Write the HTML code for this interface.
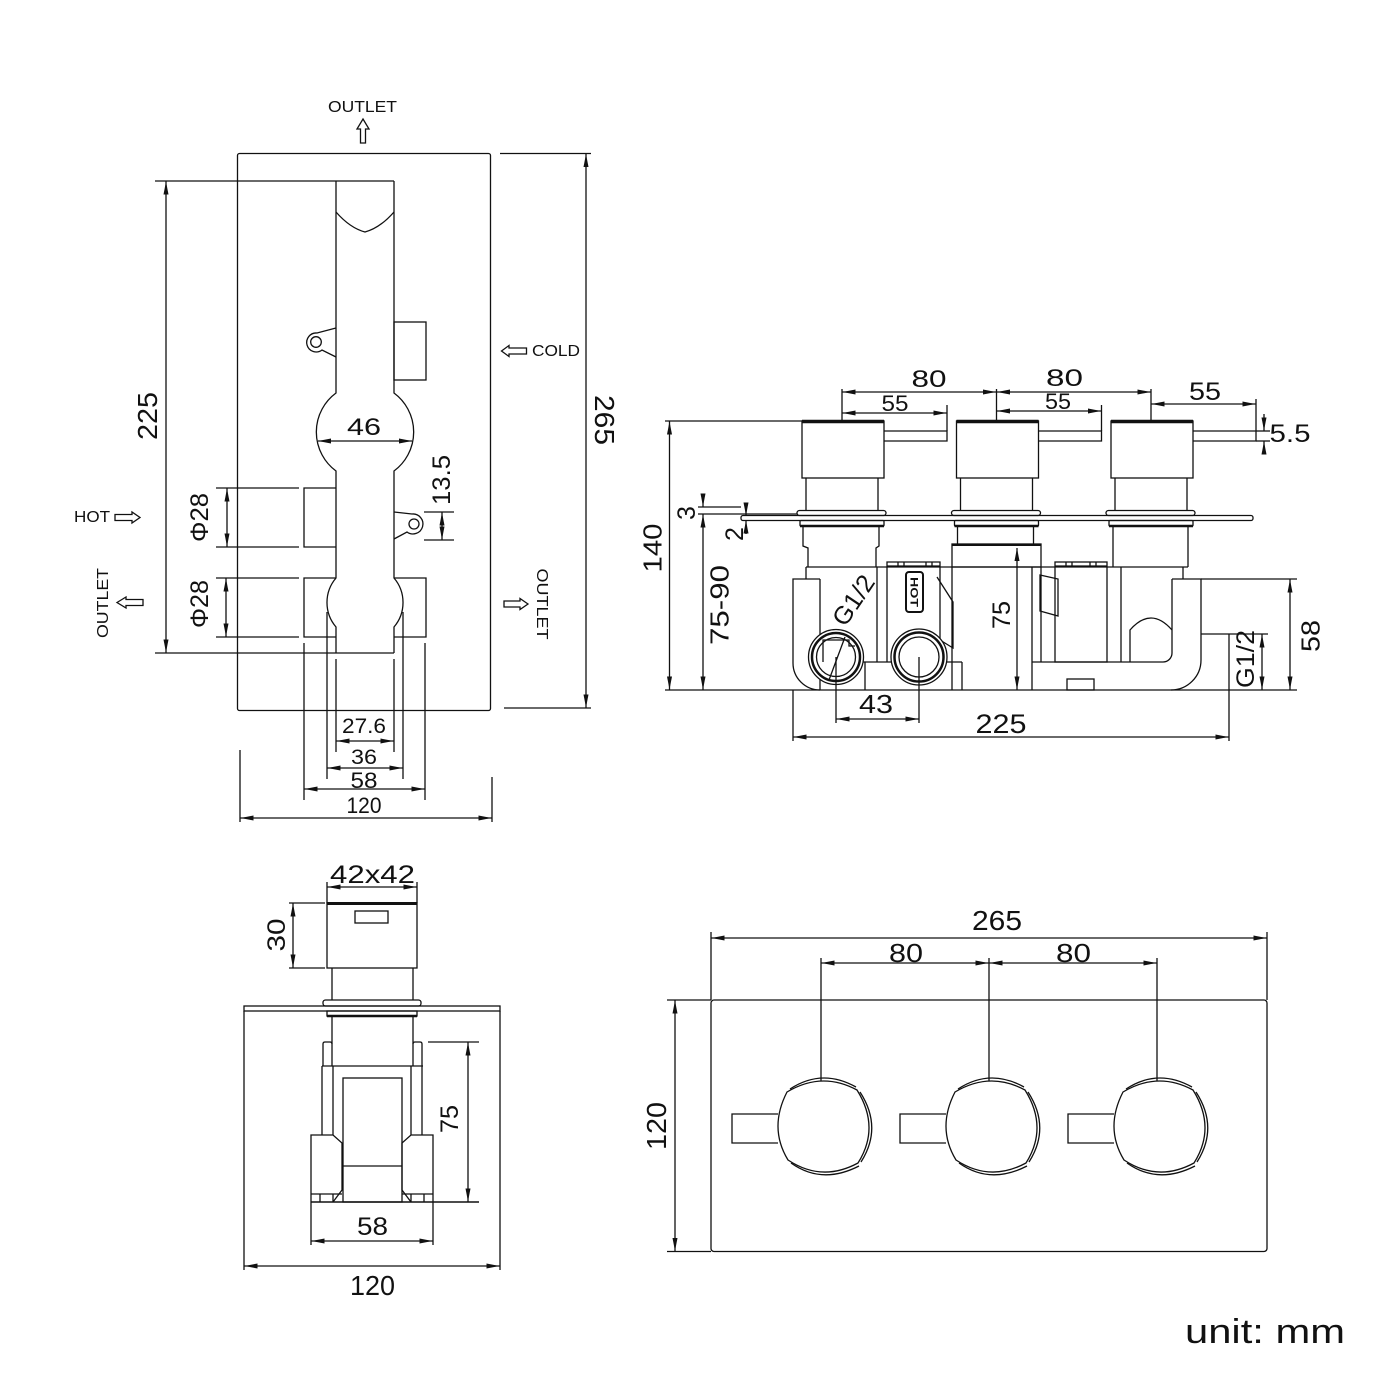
<!DOCTYPE html>
<html><head><meta charset="utf-8">
<style>
html,body{margin:0;padding:0;background:#fff;}
svg{display:block;}
text{font-family:"Liberation Sans",sans-serif;fill:#111;}
.d{marker-start:url(#a);marker-end:url(#a);}
.e{marker-end:url(#a);}
</style></head><body>
<svg width="1400" height="1400" viewBox="0 0 1400 1400" xmlns="http://www.w3.org/2000/svg">
<defs>
<marker id="a" markerUnits="userSpaceOnUse" markerWidth="13" markerHeight="5" refX="13" refY="2.5" orient="auto-start-reverse" viewBox="0 0 13 5"><path d="M0,0 L13,2.5 L0,5 Z" fill="#111" stroke="none"/></marker>
</defs>
<rect width="1400" height="1400" fill="#fff"/>
<g fill="none" stroke="#111" stroke-width="1.3">
<!-- ============ TOP-LEFT VIEW ============ -->
<path d="M363,119 L369,129 L365.5,129 L365.5,143 L360.5,143 L360.5,129 L357,129 Z"/>
<rect x="237.5" y="153.5" width="253" height="557" rx="2"/>
<line x1="500" y1="153.5" x2="591" y2="153.5"/>
<line x1="504" y1="708" x2="591" y2="708"/>
<line class="d" x1="586" y1="154" x2="586" y2="707.5"/>
<line x1="155" y1="181" x2="394" y2="181"/>
<line x1="155" y1="653" x2="394" y2="653"/>
<line class="d" x1="166" y1="181.5" x2="166" y2="652.5"/>
<path d="M336,181 L336,393 A48.5,48.5 0 0 0 336,471 L336,578 A37.8,37.8 0 0 0 336,627 L336,653"/>
<path d="M394,181 L394,393 A48.5,48.5 0 0 1 394,471 L394,578 A37.8,37.8 0 0 1 394,627 L394,653"/>
<path d="M336,212 Q350,228 365,232 Q380,228 394,212"/>
<path d="M336,328 L317,333 A9.5,9.5 0 1 0 322,350 L336,357"/>
<circle cx="316" cy="342" r="5.3"/>
<rect x="394" y="322" width="32" height="58"/>
<path d="M394,512 L412,514 A10,10 0 1 1 407,532 L394,539"/>
<circle cx="414" cy="524" r="5"/>
<line class="d" x1="318" y1="441" x2="412" y2="441"/>
<line x1="424" y1="512" x2="454" y2="512"/>
<line x1="424" y1="540" x2="454" y2="540"/>
<line class="d" x1="442" y1="512.5" x2="442" y2="539.5"/>
<polyline points="336,488 304,488 304,547 336,547"/>
<line x1="216" y1="488" x2="299" y2="488"/>
<line x1="216" y1="547" x2="299" y2="547"/>
<line class="d" x1="227" y1="488.5" x2="227" y2="546.5"/>
<polyline points="336,578 304,578 304,637 336,637"/>
<polyline points="394,578 426,578 426,637 394,637"/>
<line x1="216" y1="578" x2="299" y2="578"/>
<line x1="216" y1="637" x2="299" y2="637"/>
<line class="d" x1="226" y1="578.5" x2="226" y2="636.5"/>
<line x1="336" y1="659" x2="336" y2="752"/>
<line x1="394" y1="659" x2="394" y2="752"/>
<line class="d" x1="336.5" y1="741" x2="393.5" y2="741"/>
<line x1="327" y1="612" x2="327" y2="779"/>
<line x1="403" y1="612" x2="403" y2="779"/>
<line class="d" x1="327.5" y1="768" x2="402.5" y2="768"/>
<line x1="304" y1="643" x2="304" y2="800"/>
<line x1="425" y1="643" x2="425" y2="800"/>
<line class="d" x1="304.5" y1="789" x2="424.5" y2="789"/>
<line x1="240" y1="750" x2="240" y2="822"/>
<line x1="492" y1="777" x2="492" y2="822"/>
<line class="d" x1="240.5" y1="818" x2="491.5" y2="818"/>
<path d="M115,514.5 L132,514.5 L132,512 L140,517.5 L132,523 L132,520.5 L115,520.5 Z"/>
<path d="M501.5,351 L509,345.5 L509,348 L526.5,348 L526.5,354 L509,354 L509,356.5 Z"/>
<path d="M117,602.5 L126,597 L126,599.5 L143,599.5 L143,605.5 L126,605.5 L126,608 Z"/>
<path d="M528,604 L520,598.5 L520,601 L504,601 L504,607 L520,607 L520,609.5 Z"/>

<!-- ============ SIDE VIEW ============ -->
<line x1="665" y1="421" x2="802" y2="421"/>
<line class="d" x1="669.5" y1="421.5" x2="669.5" y2="689.5"/>
<line x1="665" y1="690" x2="1297" y2="690"/>
<line x1="698" y1="507" x2="741" y2="507"/>
<line x1="698" y1="514" x2="797" y2="514"/>
<line class="e" x1="703" y1="496" x2="703" y2="506.5"/>
<line class="d" x1="703" y1="514.5" x2="703" y2="689.5"/>
<line class="e" x1="746" y1="503" x2="746" y2="515.5"/>
<line class="e" x1="746" y1="534" x2="746" y2="520.5"/>
<rect x="741" y="515.5" width="512" height="5" rx="2"/>
<g id="k">
<rect x="802" y="421" width="82" height="57"/>
<line x1="802" y1="421.5" x2="884" y2="421.5" stroke-width="3.5"/>
<polyline points="884,431 947,431 947,441 884,441"/>
<line x1="806" y1="478" x2="806" y2="510.5"/>
<line x1="878" y1="478" x2="878" y2="510.5"/>
<rect x="797" y="510.5" width="89" height="5" rx="2.5"/>
<rect x="800" y="520.5" width="84" height="5.5" rx="1"/>
<line x1="800" y1="526" x2="884" y2="526" stroke-width="2.5"/>
</g>
<use href="#k" x="154.5"/>
<use href="#k" x="309"/>
<polyline points="803,526 803,546 808,548 808,567"/>
<polyline points="879,526 879,546 876,548 876,567"/>
<line x1="957.5" y1="526" x2="957.5" y2="544"/>
<line x1="1033.5" y1="526" x2="1033.5" y2="544"/>
<rect x="952" y="544" width="89" height="23"/>
<line x1="952" y1="545" x2="1041" y2="545" stroke-width="2"/>
<line x1="1113" y1="526" x2="1113" y2="567"/>
<line x1="1188" y1="526" x2="1188" y2="567"/>
<line x1="806" y1="567" x2="1188" y2="567"/>
<line x1="806" y1="567" x2="806" y2="579"/>
<path d="M820,579 L793,579 L793,663 A27,27 0 0 0 820,690"/>
<line x1="820" y1="579" x2="820" y2="690"/>
<line x1="877" y1="567" x2="877" y2="662"/>
<line x1="820" y1="662" x2="962" y2="662"/>
<line x1="865" y1="662" x2="865" y2="690"/>
<line x1="962" y1="662" x2="962" y2="690"/>
<polyline points="887,662 887,562 940,562 940,640"/>
<line x1="887" y1="566" x2="940" y2="566"/>
<line x1="898" y1="562" x2="898" y2="566"/><line x1="904" y1="562" x2="904" y2="566"/>
<line x1="926" y1="562" x2="926" y2="566"/><line x1="932" y1="562" x2="932" y2="566"/>
<polyline points="937,577 953,602 953,648 940,640"/>
<line x1="952" y1="567" x2="952" y2="690"/>
<line x1="1032" y1="567" x2="1032" y2="690"/>
<line x1="1041" y1="567" x2="1041" y2="662"/>
<line x1="1032" y1="662" x2="1163" y2="662"/>
<polygon points="1040,575 1058,579 1058,616 1040,611"/>
<rect x="1055" y="562" width="52" height="100"/>
<line x1="1055" y1="566" x2="1107" y2="566"/>
<line x1="1066" y1="562" x2="1066" y2="566"/><line x1="1072" y1="562" x2="1072" y2="566"/>
<line x1="1090" y1="562" x2="1090" y2="566"/><line x1="1096" y1="562" x2="1096" y2="566"/>
<line x1="1121" y1="567" x2="1121" y2="662"/>
<path d="M1130,662 L1130,630 Q1151,606 1172,630"/>
<line x1="1183" y1="567" x2="1183" y2="579"/>
<path d="M1172,579 L1201,579 L1201,660 A30,30 0 0 1 1171,690"/>
<path d="M1172,579 L1172,653 A9,9 0 0 1 1163,662"/>
<line x1="1201" y1="579" x2="1297" y2="579"/>
<line x1="1201" y1="634" x2="1268" y2="634"/>
<line x1="1229" y1="634" x2="1229" y2="741"/>
<line class="d" x1="1290" y1="579.5" x2="1290" y2="689.5"/>
<line class="d" x1="1262" y1="634.5" x2="1262" y2="689.5"/>
<rect x="1067" y="679" width="27" height="11"/>
<g fill="#fff">
<circle cx="836" cy="657" r="27.5"/>
<circle cx="836" cy="657" r="24" stroke-width="2.5"/>
<circle cx="836" cy="657" r="19.5"/>
<circle cx="919" cy="657" r="28"/>
<circle cx="919" cy="657" r="24.5" stroke-width="2.5"/>
<circle cx="919" cy="657" r="20"/>
</g>
<polyline points="823,662 823,640 849,640 849,646 855,646"/>
<line x1="829" y1="680" x2="845" y2="637"/>
<line x1="836" y1="657" x2="836" y2="723"/>
<line x1="919" y1="657" x2="919" y2="723"/>
<line class="d" x1="836.5" y1="719" x2="918.5" y2="719"/>
<line x1="793" y1="690" x2="793" y2="741"/>
<line class="d" x1="793.5" y1="737" x2="1228.5" y2="737"/>
<rect x="906" y="572" width="17" height="40" rx="3" stroke-width="2"/>
<line class="d" x1="1017" y1="548" x2="1017" y2="689.5"/>
<line x1="842" y1="389" x2="842" y2="421"/>
<line x1="996.5" y1="389" x2="996.5" y2="421"/>
<line x1="1151" y1="389" x2="1151" y2="421"/>
<line class="d" x1="842.5" y1="392" x2="996" y2="392"/>
<line class="d" x1="997" y1="392" x2="1150.5" y2="392"/>
<line x1="947" y1="405" x2="947" y2="431"/>
<line x1="1101.5" y1="405" x2="1101.5" y2="431"/>
<line x1="1256" y1="399" x2="1256" y2="431"/>
<line class="d" x1="842.5" y1="413" x2="946.5" y2="413"/>
<line class="d" x1="997" y1="411" x2="1101" y2="411"/>
<line class="d" x1="1151.5" y1="404" x2="1255.5" y2="404"/>
<line x1="1256" y1="431" x2="1270" y2="431"/>
<line x1="1256" y1="441" x2="1270" y2="441"/>
<line class="e" x1="1264" y1="414" x2="1264" y2="430.5"/>
<line class="e" x1="1264" y1="452" x2="1264" y2="441.5"/>

<!-- ============ BOTTOM-LEFT VIEW ============ -->
<line x1="327" y1="882" x2="327" y2="903"/>
<line x1="417" y1="882" x2="417" y2="903"/>
<line class="d" x1="327.5" y1="887" x2="416.5" y2="887"/>
<rect x="327" y="903" width="90" height="65"/>
<line x1="327" y1="903.5" x2="417" y2="903.5" stroke-width="3"/>
<rect x="355" y="911" width="33" height="12"/>
<line x1="289" y1="903" x2="325" y2="903"/>
<line x1="289" y1="968" x2="325" y2="968"/>
<line class="d" x1="293" y1="903.5" x2="293" y2="967.5"/>
<line x1="332" y1="968" x2="332" y2="1000"/>
<line x1="413" y1="968" x2="413" y2="1000"/>
<rect x="323" y="1000" width="98" height="6" rx="2.5"/>
<rect x="244" y="1006" width="256" height="5"/>
<rect x="327" y="1011" width="90" height="5"/>
<line x1="327" y1="1016" x2="417" y2="1016" stroke-width="2.5"/>
<line x1="332" y1="1016" x2="332" y2="1066"/>
<line x1="413" y1="1016" x2="413" y2="1066"/>
<path d="M323,1066 L323,1044 Q323,1042 325,1042 L330,1042 Q332,1042 332,1044"/>
<path d="M413,1044 Q413,1042 415,1042 L420,1042 Q422,1042 422,1044 L422,1066"/>
<line x1="322" y1="1066" x2="423" y2="1066"/>
<line x1="322" y1="1066" x2="322" y2="1135"/>
<line x1="333" y1="1066" x2="333" y2="1135"/>
<line x1="411" y1="1066" x2="411" y2="1135"/>
<line x1="422" y1="1066" x2="422" y2="1135"/>
<rect x="343" y="1078" width="59" height="124"/>
<line x1="343" y1="1166" x2="402" y2="1166"/>
<path d="M311,1202 L311,1135 L333,1135 L342,1143 L342,1190 L333,1202"/>
<path d="M433,1202 L433,1135 L411,1135 L402,1143 L402,1190 L411,1202"/>
<line x1="311" y1="1194" x2="342" y2="1194"/>
<line x1="320" y1="1194" x2="320" y2="1202"/>
<line x1="333" y1="1194" x2="333" y2="1202"/>
<line x1="402" y1="1194" x2="433" y2="1194"/>
<line x1="411" y1="1194" x2="411" y2="1202"/>
<line x1="424" y1="1194" x2="424" y2="1202"/>
<line x1="311" y1="1202" x2="479" y2="1202" stroke-width="1.6"/>
<line x1="428" y1="1042" x2="479" y2="1042"/>
<line class="d" x1="468" y1="1042.5" x2="468" y2="1201.5"/>
<line x1="311" y1="1202" x2="311" y2="1245"/>
<line x1="433" y1="1202" x2="433" y2="1245"/>
<line class="d" x1="311.5" y1="1241" x2="432.5" y2="1241"/>
<line x1="244" y1="1011" x2="244" y2="1270"/>
<line x1="500" y1="1011" x2="500" y2="1270"/>
<line class="d" x1="244.5" y1="1266" x2="499.5" y2="1266"/>

<!-- ============ BOTTOM-RIGHT VIEW ============ -->
<rect x="711" y="1000" width="556" height="251.5" rx="3"/>
<line x1="667" y1="1000" x2="711" y2="1000"/>
<line x1="667" y1="1251.5" x2="711" y2="1251.5"/>
<line class="d" x1="675" y1="1000.5" x2="675" y2="1251"/>
<line x1="711" y1="932" x2="711" y2="1000"/>
<line x1="1267" y1="932" x2="1267" y2="1000"/>
<line class="d" x1="711.5" y1="938" x2="1266.5" y2="938"/>
<line x1="821" y1="958" x2="821" y2="1081"/>
<line x1="989" y1="958" x2="989" y2="1081"/>
<line x1="1157" y1="958" x2="1157" y2="1081"/>
<line class="d" x1="821.5" y1="963" x2="988.5" y2="963"/>
<line class="d" x1="989.5" y1="963" x2="1156.5" y2="963"/>
<g id="fk">
<polyline points="778,1114 732,1114 732,1143 778,1143"/>
<path d="M787,1092 Q822,1071 857,1090 Q880.5,1127.5 858,1163 Q822,1182.5 788,1160 Q768.5,1128 787,1092 Z"/>
<path d="M790,1089 Q822,1068 856,1087"/>
<path d="M860,1092 Q883,1127.5 861,1162"/>
<path d="M859,1166 Q822,1185 791,1163"/>
</g>
<use href="#fk" x="168"/>
<use href="#fk" x="336"/>
</g>

<!-- ============ TEXT ============ -->
<g>
<text x="362.5" y="112" font-size="16" text-anchor="middle" textLength="69" lengthAdjust="spacingAndGlyphs">OUTLET</text>
<text x="532" y="356" font-size="16" textLength="48" lengthAdjust="spacingAndGlyphs">COLD</text>
<text x="74" y="522" font-size="16" textLength="36" lengthAdjust="spacingAndGlyphs">HOT</text>
<text transform="translate(102,603) rotate(-90)" y="5.8" font-size="16" text-anchor="middle" textLength="70" lengthAdjust="spacingAndGlyphs">OUTLET</text>
<text transform="translate(543,604) rotate(90)" y="5.8" font-size="16" text-anchor="middle" textLength="71" lengthAdjust="spacingAndGlyphs">OUTLET</text>
<text transform="translate(147,416) rotate(-90)" y="10" font-size="28" text-anchor="middle" textLength="48" lengthAdjust="spacingAndGlyphs">225</text>
<text transform="translate(605,420) rotate(90)" y="10" font-size="28" text-anchor="middle" textLength="50" lengthAdjust="spacingAndGlyphs">265</text>
<text x="364" y="435" font-size="24" text-anchor="middle" textLength="34" lengthAdjust="spacingAndGlyphs">46</text>
<text transform="translate(441,480) rotate(-90)" y="9" font-size="25" text-anchor="middle" textLength="50" lengthAdjust="spacingAndGlyphs">13.5</text>
<text transform="translate(199,517.5) rotate(-90)" y="9" font-size="25" text-anchor="middle" textLength="49" lengthAdjust="spacingAndGlyphs">Φ28</text>
<text transform="translate(199,604) rotate(-90)" y="9" font-size="25" text-anchor="middle" textLength="48" lengthAdjust="spacingAndGlyphs">Φ28</text>
<text x="364" y="733" font-size="21" text-anchor="middle" textLength="44" lengthAdjust="spacingAndGlyphs">27.6</text>
<text x="364" y="764" font-size="21" text-anchor="middle" textLength="26" lengthAdjust="spacingAndGlyphs">36</text>
<text x="364" y="788" font-size="22" text-anchor="middle" textLength="27" lengthAdjust="spacingAndGlyphs">58</text>
<text x="364" y="813" font-size="22" text-anchor="middle" textLength="35" lengthAdjust="spacingAndGlyphs">120</text>

<text x="929" y="387" font-size="24" text-anchor="middle" textLength="35" lengthAdjust="spacingAndGlyphs">80</text>
<text x="1064.5" y="386" font-size="24" text-anchor="middle" textLength="37" lengthAdjust="spacingAndGlyphs">80</text>
<text x="895" y="411" font-size="22" text-anchor="middle" textLength="27" lengthAdjust="spacingAndGlyphs">55</text>
<text x="1058" y="409" font-size="22" text-anchor="middle" textLength="26" lengthAdjust="spacingAndGlyphs">55</text>
<text x="1205" y="400" font-size="25" text-anchor="middle" textLength="32" lengthAdjust="spacingAndGlyphs">55</text>
<text x="1290" y="442" font-size="25" text-anchor="middle" textLength="41" lengthAdjust="spacingAndGlyphs">5.5</text>
<text transform="translate(652,548) rotate(-90)" y="9.3" font-size="26" text-anchor="middle" textLength="49" lengthAdjust="spacingAndGlyphs">140</text>
<text transform="translate(686,513) rotate(-90)" y="9" font-size="25" text-anchor="middle">3</text>
<text transform="translate(734,534) rotate(-90)" y="9" font-size="25" text-anchor="middle">2</text>
<text transform="translate(719,605) rotate(-90)" y="9.3" font-size="26" text-anchor="middle" textLength="80" lengthAdjust="spacingAndGlyphs">75-90</text>
<text transform="translate(853,600) rotate(-56)" y="9" font-size="25" text-anchor="middle" textLength="55" lengthAdjust="spacingAndGlyphs">G1/2</text>
<text transform="translate(914.5,592) rotate(90)" y="4" font-size="11" font-weight="bold" text-anchor="middle" textLength="30" lengthAdjust="spacingAndGlyphs">HOT</text>
<text transform="translate(1001,615) rotate(-90)" y="9" font-size="25" text-anchor="middle" textLength="28" lengthAdjust="spacingAndGlyphs">75</text>
<text transform="translate(1310,636) rotate(-90)" y="9.3" font-size="26" text-anchor="middle" textLength="32" lengthAdjust="spacingAndGlyphs">58</text>
<text transform="translate(1245,659) rotate(-90)" y="9" font-size="25" text-anchor="middle" textLength="58" lengthAdjust="spacingAndGlyphs">G1/2</text>
<text x="876" y="713" font-size="26" text-anchor="middle" textLength="34" lengthAdjust="spacingAndGlyphs">43</text>
<text x="1001" y="733" font-size="27" text-anchor="middle" textLength="51" lengthAdjust="spacingAndGlyphs">225</text>

<text x="372.5" y="883" font-size="25" text-anchor="middle" textLength="85" lengthAdjust="spacingAndGlyphs">42x42</text>
<text transform="translate(276,935) rotate(-90)" y="9" font-size="25" text-anchor="middle" textLength="33" lengthAdjust="spacingAndGlyphs">30</text>
<text transform="translate(449,1119) rotate(-90)" y="9" font-size="25" text-anchor="middle" textLength="28" lengthAdjust="spacingAndGlyphs">75</text>
<text x="372.5" y="1235" font-size="25" text-anchor="middle" textLength="31" lengthAdjust="spacingAndGlyphs">58</text>
<text x="372.5" y="1295" font-size="28" text-anchor="middle" textLength="45" lengthAdjust="spacingAndGlyphs">120</text>

<text x="997" y="930" font-size="28" text-anchor="middle" textLength="50" lengthAdjust="spacingAndGlyphs">265</text>
<text x="906" y="962" font-size="26" text-anchor="middle" textLength="34" lengthAdjust="spacingAndGlyphs">80</text>
<text x="1073.5" y="962" font-size="26" text-anchor="middle" textLength="35" lengthAdjust="spacingAndGlyphs">80</text>
<text transform="translate(656,1126) rotate(-90)" y="10" font-size="28" text-anchor="middle" textLength="48" lengthAdjust="spacingAndGlyphs">120</text>

<text x="1185" y="1343" font-size="34" textLength="160" lengthAdjust="spacingAndGlyphs">unit: mm</text>
</g>
</svg>
</body></html>
